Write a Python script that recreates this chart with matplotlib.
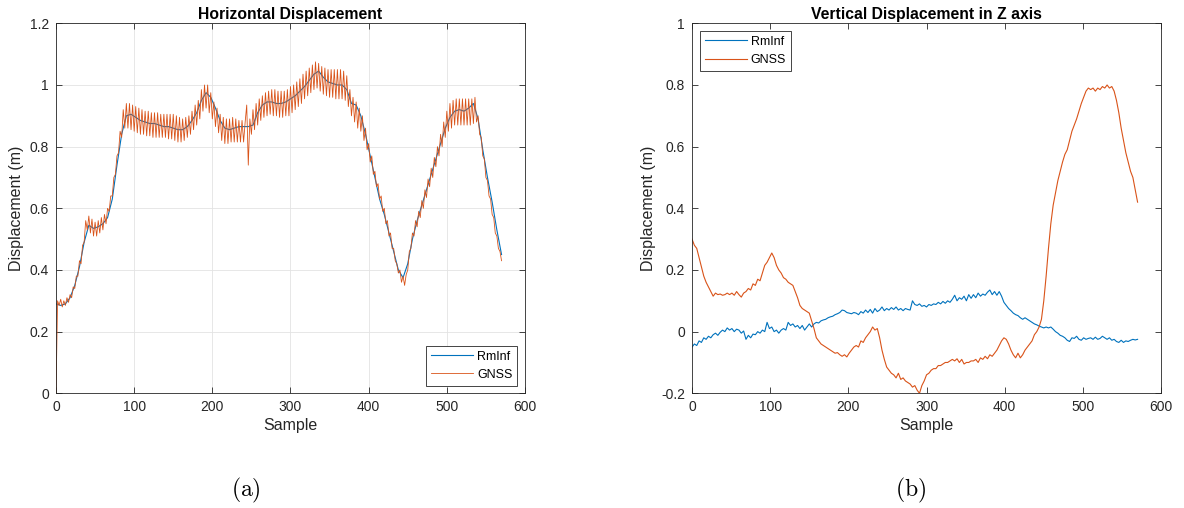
import numpy as np
import matplotlib
matplotlib.use("Agg")
import matplotlib.pyplot as plt

plt.rcParams['font.family'] = ['Liberation Sans', 'DejaVu Sans']
plt.rcParams['axes.unicode_minus'] = False
plt.rcParams['mathtext.fontset'] = 'cm'

blue = '#0072BD'
orange = '#D95319'
dark = '#262626'

# horizontal displacement (m), GNSS every 2nd sample
h_gnss_samples = np.arange(0, 571, 2)
h_gnss = [
    0.00, 0.30, 0.285, 0.305, 0.28, 0.30, 0.285, 0.31, 0.295, 0.32, 0.31, 0.345, 0.34, 0.38, 0.38,
    0.43, 0.42, 0.48, 0.49, 0.56, 0.53, 0.575, 0.52, 0.565, 0.51, 0.555, 0.51, 0.56, 0.52, 0.57,
    0.53, 0.58, 0.55, 0.60, 0.59, 0.64, 0.64, 0.70, 0.71, 0.77, 0.78, 0.85, 0.83, 0.92, 0.86,
    0.94, 0.86, 0.94, 0.855, 0.935, 0.85, 0.93, 0.845, 0.925, 0.84, 0.92, 0.84, 0.915, 0.835, 0.915,
    0.835, 0.91, 0.83, 0.91, 0.83, 0.91, 0.83, 0.905, 0.83, 0.905, 0.83, 0.905, 0.825, 0.905, 0.825,
    0.905, 0.82, 0.90, 0.815, 0.895, 0.815, 0.89, 0.82, 0.895, 0.83, 0.90, 0.84, 0.915, 0.855, 0.935,
    0.87, 0.95, 0.89, 0.985, 0.915, 1.0, 0.925, 1.0, 0.91, 0.975, 0.89, 0.945, 0.865, 0.925, 0.845,
    0.905, 0.82, 0.895, 0.81, 0.89, 0.81, 0.89, 0.815, 0.895, 0.815, 0.89, 0.815, 0.885, 0.815, 0.885,
    0.815, 0.88, 0.935, 0.74, 0.89, 0.84, 0.92, 0.855, 0.94, 0.87, 0.955, 0.885, 0.965, 0.895, 0.975,
    0.90, 0.98, 0.905, 0.985, 0.90, 0.985, 0.90, 0.98, 0.895, 0.98, 0.895, 0.98, 0.90, 0.985, 0.90,
    0.995, 0.91, 1.0, 0.92, 1.01, 0.93, 1.02, 0.94, 1.035, 0.955, 1.045, 0.965, 1.055, 0.975, 1.065,
    0.985, 1.075, 0.99, 1.07, 0.98, 1.06, 0.97, 1.055, 0.965, 1.05, 0.96, 1.05, 0.96, 1.05, 0.955,
    1.05, 0.955, 1.05, 0.955, 1.045, 0.95, 1.03, 0.93, 0.985, 0.90, 0.96, 0.88, 0.945, 0.86, 0.925,
    0.85, 0.90, 0.82, 0.86, 0.79, 0.81, 0.75, 0.77, 0.71, 0.72, 0.67, 0.68, 0.63, 0.64, 0.59,
    0.60, 0.55, 0.56, 0.51, 0.52, 0.47, 0.47, 0.43, 0.42, 0.39, 0.40, 0.36, 0.38, 0.35, 0.385,
    0.40, 0.46, 0.47, 0.52, 0.51, 0.56, 0.54, 0.59, 0.57, 0.625, 0.60, 0.66, 0.635, 0.695, 0.67,
    0.73, 0.70, 0.765, 0.735, 0.80, 0.77, 0.84, 0.80, 0.88, 0.83, 0.915, 0.85, 0.94, 0.86, 0.95,
    0.87, 0.955, 0.87, 0.955, 0.87, 0.955, 0.87, 0.955, 0.87, 0.955, 0.87, 0.955, 0.875, 0.96, 0.88,
    0.90, 0.84, 0.83, 0.77, 0.76, 0.70, 0.69, 0.64, 0.63, 0.58, 0.57, 0.52, 0.51, 0.47, 0.46,
    0.43,
]
h_rminf_samples = np.arange(0, 571, 6)
h_rminf = [
    0.29, 0.285, 0.29, 0.31, 0.35, 0.41, 0.49, 0.545, 0.535, 0.54,
    0.55, 0.57, 0.63, 0.74, 0.84, 0.90, 0.905, 0.895, 0.885, 0.88,
    0.875, 0.875, 0.87, 0.865, 0.865, 0.86, 0.855, 0.855, 0.865, 0.885,
    0.91, 0.95, 0.975, 0.96, 0.925, 0.885, 0.86, 0.855, 0.86, 0.865,
    0.865, 0.865, 0.87, 0.91, 0.935, 0.945, 0.945, 0.94, 0.94, 0.945,
    0.955, 0.965, 0.98, 0.995, 1.015, 1.035, 1.045, 1.025, 1.01, 1.005,
    1.0, 1.0, 0.985, 0.94, 0.935, 0.90, 0.84, 0.77, 0.70, 0.63,
    0.58, 0.52, 0.46, 0.40, 0.375, 0.42, 0.50, 0.56, 0.61, 0.66,
    0.71, 0.76, 0.81, 0.86, 0.895, 0.915, 0.92, 0.915, 0.925, 0.94,
    0.89, 0.79, 0.70, 0.62, 0.53, 0.45,
]

# vertical displacement in Z (m), every 3rd sample
v_samples = np.arange(0, 571, 3)
v_rminf = [
    -0.05, -0.04, -0.045, -0.03, -0.035, -0.02, -0.025, -0.015, -0.02, -0.01,
    -0.005, -0.012, -0.002, 0.005, 0.0, 0.012, 0.005, 0.01, 0.0, 0.008,
    0.005, -0.005, 0.002, -0.025, -0.012, -0.02, -0.008, -0.01, 0.0, -0.005,
    0.005, 0.0, 0.03, 0.01, 0.015, 0.0, 0.005, -0.005, 0.005, 0.01,
    0.005, 0.03, 0.02, 0.025, 0.015, 0.02, 0.01, 0.02, 0.005, 0.015,
    0.025, 0.015, 0.025, 0.03, 0.028, 0.035, 0.038, 0.04, 0.045, 0.048,
    0.05, 0.055, 0.058, 0.062, 0.07, 0.068, 0.062, 0.06, 0.058, 0.062,
    0.06, 0.055, 0.065, 0.06, 0.07, 0.062, 0.072, 0.06, 0.075, 0.065,
    0.07, 0.08, 0.068, 0.075, 0.07, 0.078, 0.072, 0.08, 0.07, 0.075,
    0.068, 0.075, 0.072, 0.07, 0.10, 0.088, 0.085, 0.09, 0.082, 0.085,
    0.08, 0.088, 0.085, 0.09, 0.088, 0.095, 0.09, 0.098, 0.092, 0.10,
    0.095, 0.105, 0.118, 0.10, 0.11, 0.105, 0.115, 0.10, 0.12, 0.108,
    0.12, 0.11, 0.125, 0.115, 0.122, 0.118, 0.128, 0.135, 0.12, 0.13,
    0.118, 0.13, 0.115, 0.095, 0.085, 0.075, 0.068, 0.06, 0.055, 0.052,
    0.045, 0.04, 0.045, 0.04, 0.035, 0.03, 0.025, 0.022, 0.018, 0.015,
    0.012, 0.015, 0.012, 0.015, 0.008, 0.0, -0.005, -0.012, -0.015, -0.02,
    -0.028, -0.032, -0.02, -0.022, -0.015, -0.025, -0.028, -0.02, -0.025, -0.022,
    -0.02, -0.025, -0.018, -0.025, -0.022, -0.015, -0.02, -0.025, -0.02, -0.028,
    -0.025, -0.032, -0.035, -0.028, -0.035, -0.03, -0.032, -0.028, -0.025, -0.027, -0.025,
]
v_gnss = [
    0.30, 0.28, 0.27, 0.24, 0.21, 0.18, 0.16, 0.145, 0.13, 0.115,
    0.125, 0.12, 0.122, 0.118, 0.12, 0.125, 0.12, 0.125, 0.118, 0.13,
    0.12, 0.112, 0.125, 0.13, 0.14, 0.135, 0.155, 0.15, 0.17, 0.165,
    0.19, 0.215, 0.225, 0.24, 0.255, 0.24, 0.215, 0.20, 0.19, 0.175,
    0.17, 0.16, 0.155, 0.15, 0.13, 0.11, 0.085, 0.075, 0.07, 0.065,
    0.06, 0.035, 0.01, -0.02, -0.03, -0.04, -0.045, -0.05, -0.055, -0.06,
    -0.065, -0.07, -0.068, -0.075, -0.08, -0.075, -0.082, -0.07, -0.06, -0.05,
    -0.045, -0.05, -0.03, -0.035, -0.02, -0.01, 0.0, 0.015, 0.005, 0.01,
    -0.02, -0.06, -0.09, -0.115, -0.125, -0.135, -0.14, -0.15, -0.135, -0.155,
    -0.15, -0.16, -0.165, -0.17, -0.18, -0.175, -0.19, -0.20, -0.175, -0.16,
    -0.14, -0.135, -0.125, -0.12, -0.12, -0.11, -0.11, -0.105, -0.10, -0.10,
    -0.095, -0.09, -0.095, -0.088, -0.10, -0.09, -0.105, -0.10, -0.10, -0.095,
    -0.095, -0.09, -0.10, -0.085, -0.09, -0.08, -0.088, -0.075, -0.08, -0.07,
    -0.06, -0.045, -0.03, -0.02, -0.025, -0.04, -0.06, -0.075, -0.085, -0.07,
    -0.085, -0.075, -0.06, -0.05, -0.04, -0.03, -0.01, 0.0, 0.015, 0.04,
    0.10, 0.18, 0.27, 0.35, 0.41, 0.45, 0.49, 0.52, 0.55, 0.575,
    0.59, 0.62, 0.65, 0.67, 0.69, 0.715, 0.74, 0.76, 0.78, 0.79,
    0.785, 0.79, 0.78, 0.79, 0.785, 0.795, 0.79, 0.80, 0.79, 0.795,
    0.78, 0.75, 0.71, 0.66, 0.62, 0.58, 0.55, 0.52, 0.50, 0.46, 0.42,
]


def style_axes(ax):
    for s in ax.spines.values():
        s.set_color(dark)
        s.set_linewidth(0.6)
    ax.tick_params(direction='in', top=True, right=True, length=4, width=0.6,
                   colors=dark, labelsize=10, pad=5)
    ax.set_xlim(0, 600)
    ax.set_xticks(np.arange(0, 601, 100))
    ax.yaxis.set_major_formatter(matplotlib.ticker.FormatStrFormatter('%g'))
    ax.set_xlabel('Sample', fontsize=11.5, color=dark, labelpad=3)
    ax.set_ylabel('Displacement (m)', fontsize=11.5, color=dark, labelpad=4)


fig = plt.figure(figsize=(11.84, 5.08), dpi=100)
ax1 = fig.add_axes([0.0473, 0.2258, 0.3961, 0.7283])
ax2 = fig.add_axes([0.5845, 0.2258, 0.3961, 0.7283])

ax1.plot(h_rminf_samples, h_rminf, color=blue, lw=0.8, label='RmInf')
ax1.plot(h_gnss_samples, h_gnss, color=orange, lw=0.6, label='GNSS')
ax1.set_ylim(0, 1.2)
ax1.set_yticks(np.arange(0, 1.21, 0.2))
ax1.grid(True, color='#e3e3e3', lw=0.6)
ax1.set_axisbelow(True)
style_axes(ax1)
ax1.set_title('Horizontal Displacement', fontsize=11.3, fontweight='bold', color='black', pad=3)
leg1 = ax1.legend(loc='lower right', fontsize=9, fancybox=False, edgecolor=dark,
                  handlelength=3.4, handletextpad=0.3, borderaxespad=0.6, framealpha=1)
leg1.get_frame().set_linewidth(0.6)

ax2.plot(v_samples, v_rminf, color=blue, lw=0.8, label='RmInf')
ax2.plot(v_samples, v_gnss, color=orange, lw=0.8, label='GNSS')
ax2.set_ylim(-0.2, 1.0)
ax2.set_yticks(np.arange(-0.2, 1.01, 0.2))
style_axes(ax2)
ax2.set_title('Vertical Displacement in Z axis', fontsize=11.3, fontweight='bold', color='black', pad=3)
leg2 = ax2.legend(loc='upper left', fontsize=9, fancybox=False, edgecolor=dark,
                  handlelength=3.4, handletextpad=0.3, borderaxespad=0.6, framealpha=1)
leg2.get_frame().set_linewidth(0.6)

fig.text(246 / 1184, 1 - 490 / 508, r'$\mathrm{(a)}$', fontsize=17, ha='center', va='center')
fig.text(911 / 1184, 1 - 490 / 508, r'$\mathrm{(b)}$', fontsize=17, ha='center', va='center')

fig.savefig('out.png', dpi=100)
